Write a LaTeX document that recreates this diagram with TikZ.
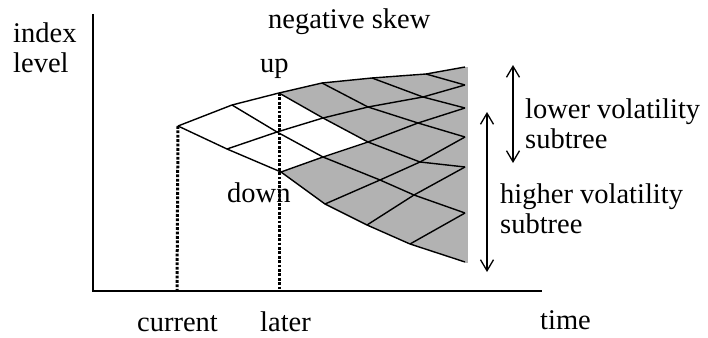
\documentclass[tikz,border=0pt]{standalone}
\usepackage{fontspec}
\setmainfont{Liberation Serif}
\usetikzlibrary{arrows.meta}

\begin{document}
\begin{tikzpicture}[x=1pt, y=-1pt,
    lbl/.style={font=\fontsize{28.5}{30}\selectfont, inner sep=0pt,
                anchor=base west, align=left},
    axis/.style={line width=2pt},
    lattice/.style={line width=1.4pt, line join=round},
    guide/.style={line width=3pt, dash pattern=on 2.8pt off 1.6pt},
    span/.style={line width=1.3pt,
                 {Straight Barb[length=11pt,width=13pt]}-{Straight Barb[length=11pt,width=13pt]}}]
  \useasboundingbox (0,0) rectangle (708,337);

  % Axes
  \coordinate (ytop) at (93,14);
  \coordinate (orig) at (93,291);
  \coordinate (xend) at (542,291);
  \draw[axis] (ytop) -- (orig) -- (xend);

  % Tree nodes
  \coordinate (n00) at (178,126);
  \coordinate (n10) at (227,149); \coordinate (n11) at (232,105);
  \coordinate (n20) at (281,172); \coordinate (n21) at (277,132);
  \coordinate (n22) at (279,93);
  \coordinate (n30) at (325,204); \coordinate (n31) at (323,157);
  \coordinate (n32) at (323,118); \coordinate (n33) at (322,83);
  \coordinate (n40) at (367,225); \coordinate (n41) at (380,180);
  \coordinate (n42) at (368,142); \coordinate (n43) at (368,107);
  \coordinate (n44) at (372,78);
  \coordinate (n50) at (410,244); \coordinate (n51) at (414,195);
  \coordinate (n52) at (420,162); \coordinate (n53) at (418,123);
  \coordinate (n54) at (423,97);  \coordinate (n55) at (426,74);
  \coordinate (n60) at (465,262); \coordinate (n61) at (465,213);
  \coordinate (n62) at (465,167); \coordinate (n63) at (465,137);
  \coordinate (n64) at (465,108); \coordinate (n65) at (465,85);
  \coordinate (n66) at (465,67);

  % Shaded subtrees
  \fill[black!30] (n22) -- (n33) -- (n44) -- (n55) -- (n66) -- (n60)
    -- (n50) -- (n40) -- (n30) -- (n20) -- (n31) -- (n42) -- (n32) -- cycle;
  \draw[black!30, line width=2.4pt] (466.5,67) -- (466.5,263);

  % Down moves
  \draw[lattice] (n00) -- (n10) -- (n20) -- (n30) -- (n40) -- (n50) -- (n60);
  \draw[lattice] (n11) -- (n21) -- (n31) -- (n41) -- (n51) -- (n61);
  \draw[lattice] (n22) -- (n32) -- (n42) -- (n52) -- (n62);
  \draw[lattice] (n33) -- (n43) -- (n53) -- (n63);
  \draw[lattice] (n44) -- (n54) -- (n64);
  \draw[lattice] (n55) -- (n65);
  % Up moves
  \draw[lattice] (n00) -- (n11) -- (n22) -- (n33) -- (n44) -- (n55) -- (n66);
  \draw[lattice] (n10) -- (n21) -- (n32) -- (n43) -- (n54) -- (n65);
  \draw[lattice] (n20) -- (n31) -- (n42) -- (n53) -- (n64);
  \draw[lattice] (n30) -- (n41) -- (n52) -- (n63);
  \draw[lattice] (n40) -- (n51) -- (n62);
  \draw[lattice] (n50) -- (n61);

  % Time markers
  \coordinate (tnow) at (177,291);
  \coordinate (tlater) at (279,291);
  \draw[guide] (n00) -- (tnow);
  \draw[guide] (n22) -- (tlater);

  % Subtree spans
  \coordinate (lotop) at (513,65);
  \coordinate (lobot) at (513,163);
  \coordinate (hitop) at (487,112);
  \coordinate (hibot) at (487,272);
  \draw[span] (lotop) -- (lobot);
  \draw[span] (hitop) -- (hibot);

  % Labels
  \node[lbl] (ylabel) at (13,72) {index\\level};
  \node[lbl] (title) at (268,29) {negative skew};
  \node[lbl] (uplbl) at (260,72) {up};
  \node[lbl] (downlbl) at (227,202) {down};
  \node[lbl] (nowlbl) at (137,331) {current};
  \node[lbl] (laterlbl) at (260,331) {later};
  \node[lbl] (xlabel) at (540,329) {time};
  \node[lbl] (lolbl) at (525,148) {lower volatility\\subtree};
  \node[lbl] (hilbl) at (500,233) {higher volatility\\subtree};
\end{tikzpicture}
\end{document}
